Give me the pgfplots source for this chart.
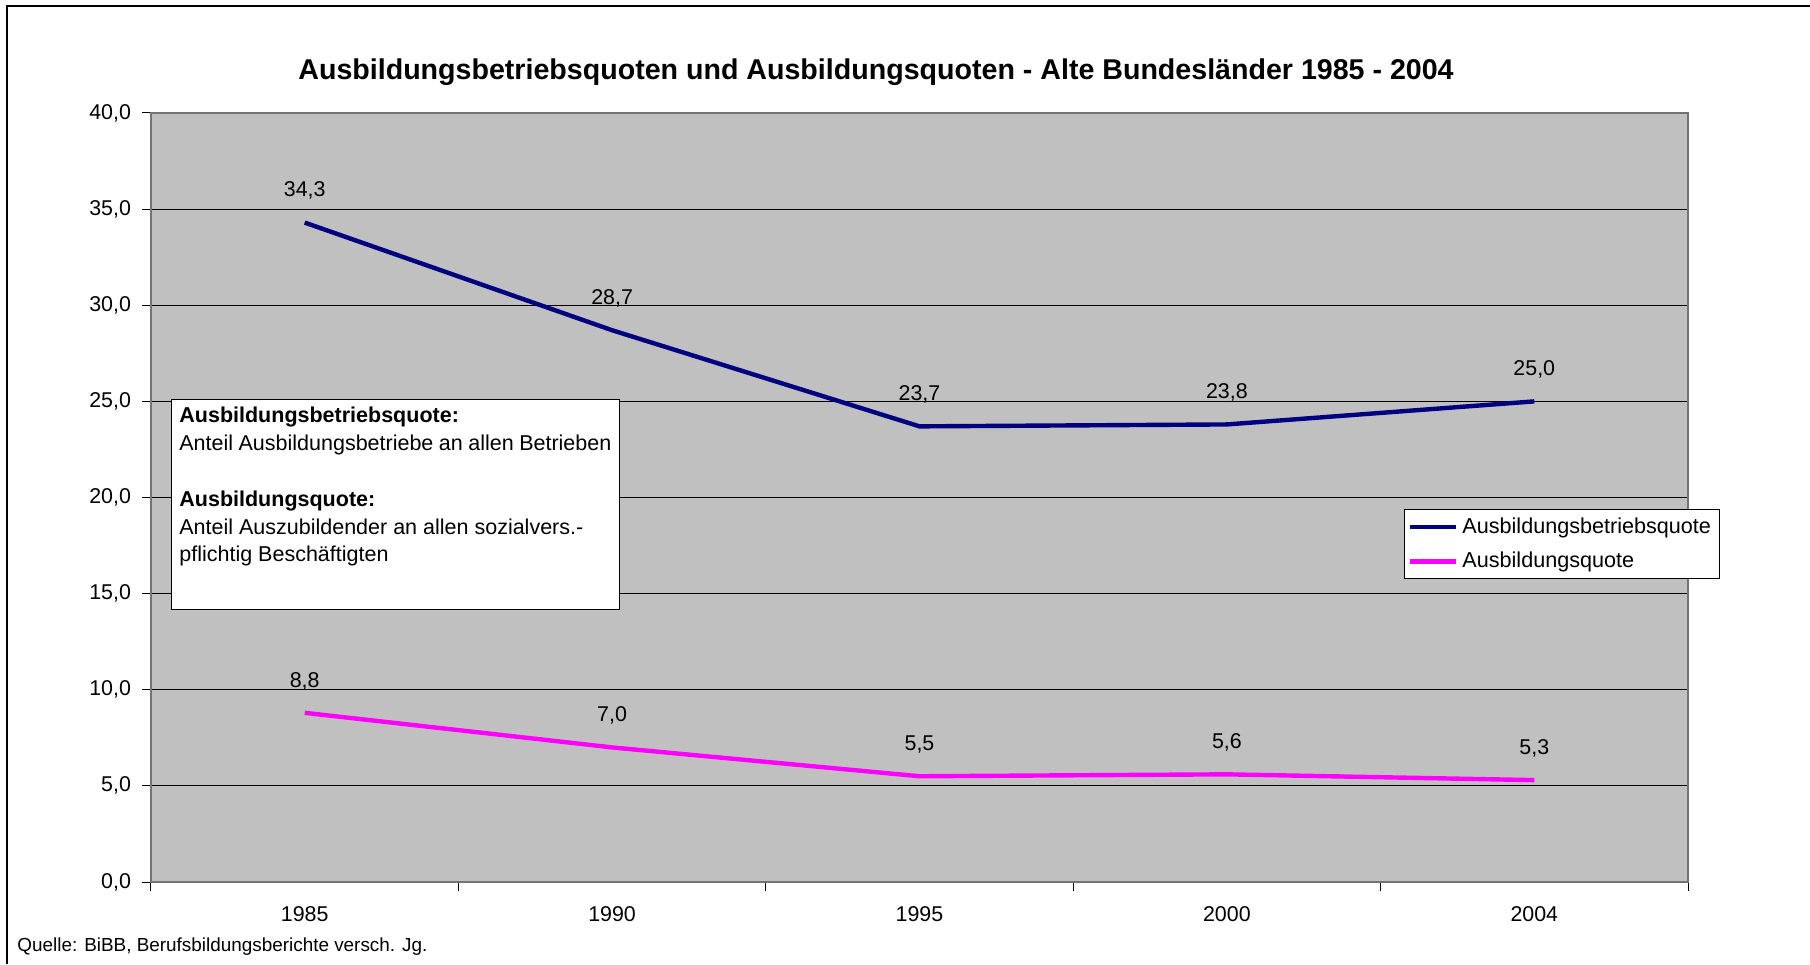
\documentclass[border=0pt]{standalone}
\usepackage{fontspec}
\setmainfont{Liberation Sans}
\usepackage{pgfplots}
\pgfplotsset{compat=1.18}
\definecolor{plotbg}{HTML}{C0C0C0}
\definecolor{navy}{HTML}{000080}
\definecolor{mag}{HTML}{FF00FF}
\begin{document}
\begin{tikzpicture}[x=1pt,y=1pt]
\useasboundingbox (0,0) rectangle (905,482);
\draw[line width=0.7pt] (3.5,0) -- (3.5,479) -- (905,479);
\node[font=\fontsize{14.3}{16}\selectfont\bfseries] at (438,446) {Ausbildungsbetriebsquoten und Ausbildungsquoten - Alte Bundesländer 1985 - 2004};
\begin{axis}[
  at={(75.5pt,41pt)}, anchor=south west,
  scale only axis, width=768.5pt, height=384.5pt,
  xmin=0, xmax=5, ymin=0, ymax=40,
  axis background/.style={fill=plotbg},
  axis line style={draw=black!55, line width=0.8pt},
  xtick={0.5,1.5,2.5,3.5,4.5},
  xticklabels={1985,1990,1995,2000,2004},
  minor xtick={0,1,2,3,4,5},
  major x tick style={draw=none},
  minor tick length=4.5pt,
  major tick length=4.5pt,
  ytick={0,5,...,40},
  tick align=outside,
  tick pos=left,
  ymajorgrids,
  grid style={black, line width=0.5pt},
  tick style={black, line width=0.5pt},
  /pgf/number format/assume math mode=true,
  /pgf/number format/fixed, /pgf/number format/fixed zerofill,
  /pgf/number format/precision=1, /pgf/number format/use comma,
  yticklabel style={xshift=-2pt},
  ticklabel style={font=\fontsize{10.7}{12}\selectfont},
  xticklabel style={yshift=-4pt},
  legend style={at={(0.815,0.485)}, anchor=north west, draw=black, fill=white,
    font=\fontsize{10.8}{12}\selectfont, row sep=4pt, inner sep=2pt,
    cells={anchor=west}},
  legend image code/.code={\draw[#1, line width=2.2pt] (0pt,0pt) -- (23pt,0pt);},
  every node near coord/.append style={text=black, font=\fontsize{10.7}{12}\selectfont, yshift=7pt},
]
\addplot[navy, line width=2.2pt, nodes near coords] coordinates {(0.5,34.3) (1.5,28.7) (2.5,23.7) (3.5,23.8) (4.5,25.0)};
\addlegendentry{Ausbildungsbetriebsquote}
\addplot[mag, line width=2.2pt, nodes near coords] coordinates {(0.5,8.8) (1.5,7.0) (2.5,5.5) (3.5,5.6) (4.5,5.3)};
\addlegendentry{Ausbildungsquote}
\end{axis}
\node[draw=black, fill=white, anchor=north west, inner sep=4pt, font=\fontsize{10.75}{13.9}\selectfont] at (85.5,282.5)
  {\parbox[t][97pt][t]{216pt}{\textbf{Ausbildungsbetriebsquote:}\\
  Anteil Ausbildungsbetriebe an allen Betrieben\\[13.9pt]
  \textbf{Ausbildungsquote:}\\
  Anteil Auszubildender an allen sozialvers.-\\
  pflichtig Beschäftigten}};
\node[anchor=west, inner sep=0pt, font=\fontsize{9.45}{11}\selectfont] at (8.5,8.5) {Quelle: BiBB, Berufsbildungsberichte versch. Jg.};
\end{tikzpicture}
\end{document}
